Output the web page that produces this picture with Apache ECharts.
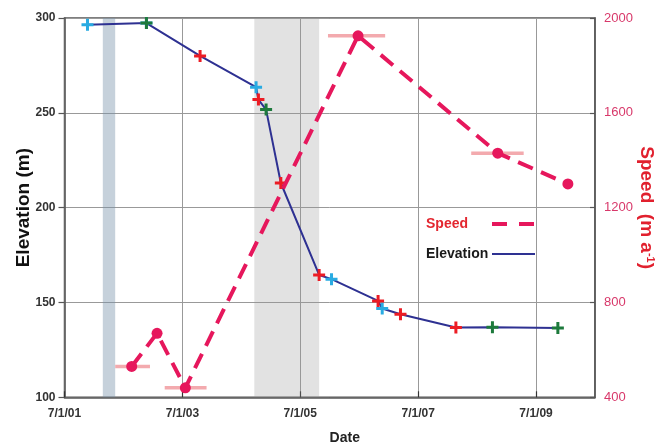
<!DOCTYPE html>
<html><head><meta charset="utf-8">
<script src="https://cdn.jsdelivr.net/npm/echarts@6/dist/echarts.min.js"></script>
<style>html,body{margin:0;padding:0;background:#fff}#c{width:661px;height:445px}</style>
</head><body><div id="c"></div>
<script>
const FONT = 'Liberation Sans, Arial, Helvetica, sans-serif';

// x axis: decimal years; origin 7/1/01
const xStart = 2001.5;
const xTickLabels = ['7/1/01', '7/1/03', '7/1/05', '7/1/07', '7/1/09'];

// Elevation survey points (decimal year, m) and source campaign
const elevDates  = [2001.89, 2002.89, 2003.80, 2004.75, 2004.79, 2004.92, 2005.17, 2005.82, 2006.03, 2006.82, 2006.89, 2007.20, 2008.14, 2008.76, 2009.87];
const elevValues = [296.5,   297.3,   280.0,   263.5,   257.0,   251.7,   213.0,   164.5,   162.3,   150.8,   146.8,   143.8,   136.8,   137.0,   136.5];
const elevSource = ['C',     'CG',    'R',     'C',     'R',     'G',     'R',     'R',     'C',     'R',     'C',     'R',     'R',     'G',     'G'];

// Speed (m/a), with horizontal time error bars
const speedDates  = [2002.64, 2003.07, 2003.55, 2006.48, 2008.85, 2010.04];
const speedValues = [530,     670,     440,     1925,    1430,    1300];
const speedErrLo  = [2002.36, null,    2003.20, 2005.97, 2008.40, null];
const speedErrHi  = [2002.95, null,    2003.91, 2006.94, 2009.29, null];

// shaded periods
const bandStart = [2002.15, 2004.72];
const bandEnd   = [2002.36, 2005.82];
const bandColor = ['rgba(120,145,170,0.42)', 'rgba(150,150,150,0.28)'];

const CROSS = 'path://M4.5,0H7.5V4.5H12V7.5H7.5V12H4.5V7.5H0V4.5H4.5Z';
const SPEED_C = '#e6175c';

function crossSeries(code, color) {
  const pts = [];
  elevDates.forEach((d, i) => { if (elevSource[i].indexOf(code) >= 0) pts.push([d - xStart, elevValues[i]]); });
  return { type: 'scatter', yAxisIndex: 0, symbol: CROSS, symbolSize: 12, data: pts,
           itemStyle: { color: color, opacity: 1 }, z: 5, silent: true };
}

const chart = echarts.init(document.getElementById('c'), null, { renderer: 'canvas' });
chart.setOption({
  animation: false,
  backgroundColor: '#fff',
  textStyle: { fontFamily: FONT },
  grid: { left: 64.5, right: 66, top: 18, bottom: 47.7, outerBoundsMode: 'none', containLabel: false,
          show: true, borderColor: '#555', borderWidth: 1.5, backgroundColor: 'transparent' },
  legend: {
    orient: 'vertical', left: 421, top: 212, align: 'right',
    itemWidth: 43, itemHeight: 14, itemGap: 16,
    itemStyle: { opacity: 0 },
    textStyle: { fontFamily: FONT, fontSize: 14, fontWeight: 'bold',
      rich: { s: { fontFamily: FONT, fontSize: 14, fontWeight: 'bold', color: '#e3262f', width: 61, align: 'left' },
              e: { fontFamily: FONT, fontSize: 14, fontWeight: 'bold', color: '#1a1a1a', width: 61, align: 'left' } } },
    formatter: name => name === 'Speed' ? '{s|' + name + '}' : '{e|' + name + '}',
    data: [
      { name: 'Speed', lineStyle: { type: [15, 12], width: 4, color: SPEED_C } },
      { name: 'Elevation', lineStyle: { width: 2, color: '#2e3192' } }
    ],
    selectedMode: false
  },
  xAxis: {
    type: 'value', min: 0, max: 9, interval: 2,
    name: 'Date', nameLocation: 'middle', nameGap: 34, nameMoveOverlap: false,
    nameTextStyle: { fontFamily: FONT, fontSize: 14, fontWeight: 'bold', color: '#222', padding: [0, 0, 0, 30] },
    axisLine: { show: true, lineStyle: { color: '#555', width: 1.5 } },
    axisTick: { show: true, inside: true, length: 6, lineStyle: { color: '#333', width: 1.2 } },
    splitLine: { show: true, lineStyle: { color: '#999', width: 1 } },
    axisLabel: { margin: 10, fontFamily: FONT, fontSize: 12, fontWeight: 'bold', color: '#333',
      showMaxLabel: false,
      formatter: v => (v % 2 === 0 && xTickLabels[v / 2]) ? xTickLabels[v / 2] : '' }
  },
  yAxis: [
    {
      type: 'value', min: 100, max: 300, interval: 50, position: 'left',
      name: 'Elevation (m)', nameLocation: 'middle', nameGap: 31, nameRotate: 90, nameMoveOverlap: false,
      nameTextStyle: { fontFamily: FONT, fontSize: 19, fontWeight: 'bold', color: '#111' },
      axisLine: { show: true, lineStyle: { color: '#555', width: 1.5 } },
      axisTick: { show: true, inside: false, length: 6, lineStyle: { color: '#555', width: 1.2 } },
      splitLine: { show: true, lineStyle: { color: '#999', width: 1 } },
      axisLabel: { margin: 9, fontFamily: FONT, fontSize: 12, fontWeight: 'bold', color: '#333', formatter: v => String(v) }
    },
    {
      type: 'value', min: 400, max: 2000, interval: 400, position: 'right',
      name: 'Speed  (m a{sup|-1})', nameLocation: 'middle', nameGap: 42, nameRotate: -90, nameMoveOverlap: false,
      nameTextStyle: { fontFamily: FONT, fontSize: 19, fontWeight: 'bold', color: '#e1202e',
        rich: { sup: { fontFamily: FONT, fontSize: 11, fontWeight: 'bold', color: '#e1202e', verticalAlign: 'top', lineHeight: 19 } } },
      axisLine: { show: true, lineStyle: { color: '#555', width: 1.5 } },
      axisTick: { show: true, inside: true, length: 5, lineStyle: { color: '#555', width: 1.2 } },
      splitLine: { show: false },
      axisLabel: { margin: 9, fontFamily: FONT, fontSize: 13, color: '#d8386a', formatter: v => String(v) }
    }
  ],
  series: [
    {
      name: 'Elevation', type: 'line', yAxisIndex: 0, symbol: 'none', z: 3,
      data: elevDates.map((d, i) => [d - xStart, elevValues[i]]),
      lineStyle: { color: '#2e3192', width: 2 }, itemStyle: { color: '#2e3192' },
      markArea: { silent: true, z: 1,
        data: bandStart.map((b, i) => [{ xAxis: b - xStart, itemStyle: { color: bandColor[i] } }, { xAxis: bandEnd[i] - xStart }]) }
    },
    crossSeries('C', '#29abe2'),
    crossSeries('G', '#1d7a3c'),
    crossSeries('R', '#ec1c24'),
    {
      type: 'custom', yAxisIndex: 1, z: 2, silent: true,
      data: speedDates.map((d, i) => speedErrLo[i] == null ? null : [speedErrLo[i] - xStart, speedErrHi[i] - xStart, speedValues[i]]).filter(v => v),
      encode: { x: [0, 1], y: 2 },
      renderItem: (params, api) => {
        const a = api.coord([api.value(0), api.value(2)]);
        const b = api.coord([api.value(1), api.value(2)]);
        return { type: 'line', shape: { x1: a[0], y1: a[1], x2: b[0], y2: b[1] }, style: { stroke: '#f3aaae', lineWidth: 3.5 } };
      }
    },
    {
      name: 'Speed', type: 'line', yAxisIndex: 1, symbol: 'none', z: 6,
      data: speedDates.map((d, i) => [d - xStart, speedValues[i]]),
      lineStyle: { color: SPEED_C, width: 4, type: [16, 9] }, itemStyle: { color: SPEED_C }
    },
    {
      type: 'scatter', yAxisIndex: 1, symbol: 'circle', symbolSize: 11, z: 7, silent: true,
      data: speedDates.map((d, i) => [d - xStart, speedValues[i]]),
      itemStyle: { color: SPEED_C, opacity: 1 }
    }
  ]
});
</script>
</body></html>
